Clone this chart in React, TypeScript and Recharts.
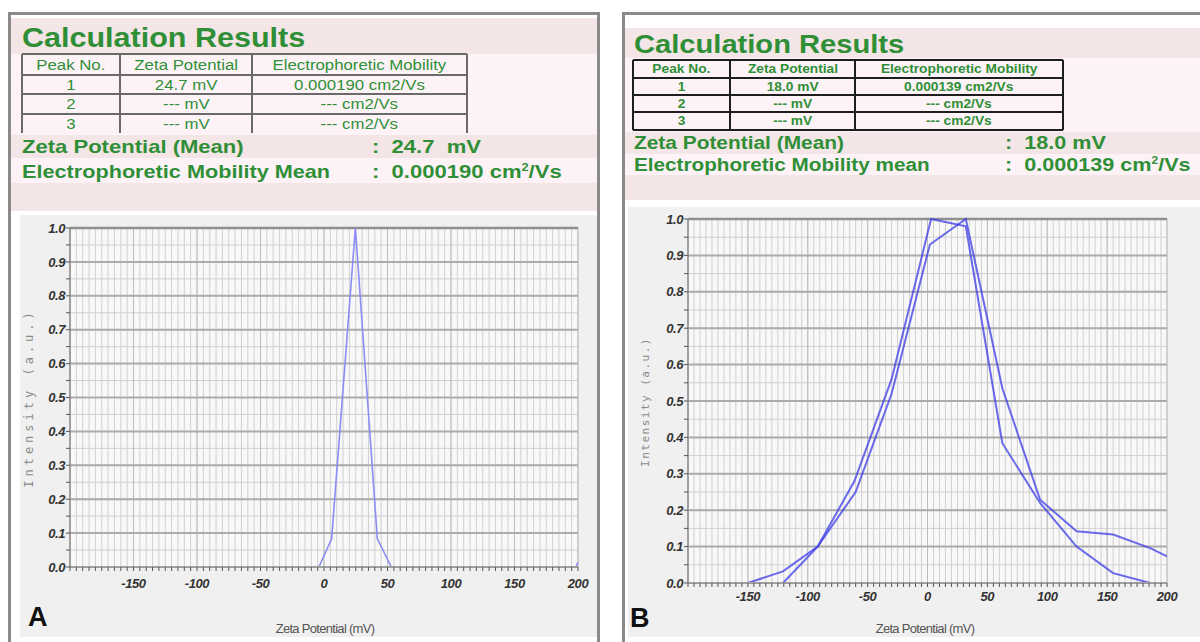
import React from "react";
import {
  LineChart,
  Line,
  XAxis,
  YAxis,
  CartesianGrid,
  ReferenceLine,
} from "recharts";

const tableHeader = ["Peak No.", "Zeta Potential", "Electrophoretic Mobility"];
const peakRowsA = [
  ["1", "24.7 mV", "0.000190 cm2/Vs"],
  ["2", "--- mV", "--- cm2/Vs"],
  ["3", "--- mV", "--- cm2/Vs"],
];
const peakRowsB = [
  ["1", "18.0 mV", "0.000139 cm2/Vs"],
  ["2", "--- mV", "--- cm2/Vs"],
  ["3", "--- mV", "--- cm2/Vs"],
];

// panel A: single narrow peak
const zetaA = [-4, 6, 24.7, 42, 53];
const intensityA = [0, 0.083, 1.0, 0.083, 0];
const blipZetaA = [198.5, 200];
const blipIntensityA = [0, 0.015];

// panel B: two runs
const zetaB1 = [-150, -120.7, -91.7, -60, -30, 2, 32, 62.5, 94, 124.5, 155, 186, 200];
const intensityB1 = [0, 0.032, 0.1, 0.25, 0.52, 0.93, 1.0, 0.535, 0.229, 0.142, 0.133, 0.096, 0.073];
const zetaB2 = [-120.7, -91.7, -61, -30, 3, 32, 62.5, 94, 124.5, 155, 186];
const intensityB2 = [0, 0.1, 0.28, 0.56, 1.0, 0.98, 0.384, 0.22, 0.1, 0.027, 0];

const xLabelTicks = [-150, -100, -50, 0, 50, 100, 150, 200];
const yLabelTicks = [0.1, 0.2, 0.3, 0.4, 0.5, 0.6, 0.7, 0.8, 0.9, 1.0];

// minor grid every 5 mV / 0.05 a.u.
const xMinor = Array.from({ length: 81 }, (_, i) => -200 + i * 5);
const yMinor = Array.from({ length: 21 }, (_, i) => Math.round(i * 5) / 100);

const toPoints = (xs: number[], ys: number[]) => xs.map((x, i) => ({ x, y: ys[i] }));

const GREEN = "#2f8f36";
const PINK = "#f4e5e6";
const LIGHT_PINK = "#fdf3f7";
const sans = "'Liberation Sans', Arial, sans-serif";

// ── pieces ────────────────────────────────────────────────────────────────

function Box({ l, t, w, h, bg }: { l: number; t: number; w: number; h: number; bg: string }) {
  return <div style={{ position: "absolute", left: l, top: t, width: w, height: h, background: bg }} />;
}

// the report fonts are a stretched bold sans, so scale horizontally
function Txt({
  l, t, size, children, sx = 1, color = GREEN,
}: {
  l: number; t: number; size: number; children: React.ReactNode; sx?: number; color?: string;
}) {
  return (
    <div
      style={{
        position: "absolute", left: l, top: t, fontSize: size, lineHeight: 1,
        fontWeight: 700, color, fontFamily: sans, whiteSpace: "nowrap",
        transform: `scaleX(${sx})`, transformOrigin: "left center",
      }}
    >
      {children}
    </div>
  );
}

// table drawn from absolute lines so the row heights stay exact
function PeakTable({
  xs, ys, color, lw, fontSize, sx, weight, rows, bottomLine,
}: {
  xs: number[]; ys: number[]; color: string; lw: number; fontSize: number; sx: number; weight: number;
  rows: string[][]; bottomLine: boolean;
}) {
  const all = [tableHeader, ...rows];
  const left = xs[0], right = xs[xs.length - 1], top = ys[0], bottom = ys[ys.length - 1];
  return (
    <>
      <Box l={left} t={top} w={right - left} h={bottom - top} bg={LIGHT_PINK} />
      {all.map((r, ri) =>
        r.map((c, ci) => (
          <div
            key={ri + "-" + ci}
            style={{
              position: "absolute", left: xs[ci], top: ys[ri], width: xs[ci + 1] - xs[ci], height: ys[ri + 1] - ys[ri],
              display: "flex", alignItems: "center", justifyContent: "center", color: GREEN,
              fontFamily: sans, fontSize, fontWeight: weight, whiteSpace: "nowrap",
            }}
          >
            <span style={{ display: "inline-block", transform: `scaleX(${sx})` }}>{c}</span>
          </div>
        ))
      )}
      {xs.map((x, i) => (
        <div key={"v" + i} style={{ position: "absolute", left: x - lw / 2, top, width: lw, height: bottom - top, background: color }} />
      ))}
      {ys.map((y, i) =>
        i === ys.length - 1 && !bottomLine ? null : (
          <div key={"h" + i} style={{ position: "absolute", left, top: y - lw / 2, width: right - left, height: lw, background: color }} />
        )
      )}
    </>
  );
}

const tickStyle = {
  fill: "#333",
  fontSize: 13,
  fontStyle: "italic",
  fontWeight: 700,
  fontFamily: sans,
  letterSpacing: -0.4,
};

function ZetaChart({
  width, height, margin, series, labelMargin,
}: {
  width: number; height: number;
  margin: { top: number; right: number; bottom: number; left: number };
  series: { data: { x: number; y: number }[]; color: string; w: number; op: number }[];
  labelMargin: number;
}) {
  return (
    <LineChart width={width} height={height} margin={margin}>
      <CartesianGrid stroke="#d0d0d0" fill="#f8f8f8" strokeWidth={1} />
      {xLabelTicks.map((v) => (
        <ReferenceLine key={"vx" + v} x={v} stroke="#bdbdbd" strokeWidth={1} />
      ))}
      {yLabelTicks.map((v) => (
        <ReferenceLine key={"hy" + v} y={v} stroke={v === 1.0 ? "#8f8f8f" : "#ababab"} strokeWidth={v === 1.0 ? 2.5 : 2} />
      ))}
      <XAxis
        type="number"
        dataKey="x"
        domain={[-200, 200]}
        ticks={xMinor}
        interval={0}
        allowDataOverflow
        height={30}
        tickSize={4}
        tickMargin={labelMargin}
        tickLine={{ stroke: "#555" }}
        axisLine={{ stroke: "#a0a0a0", strokeWidth: 2 }}
        tick={tickStyle}
        tickFormatter={(v: number) => (v % 50 === 0 && v !== -200 ? String(v) : "")}
      />
      <YAxis
        type="number"
        dataKey="y"
        domain={[0, 1]}
        ticks={yMinor}
        interval={0}
        width={40}
        tickSize={4}
        tickMargin={1}
        tickLine={{ stroke: "#555" }}
        axisLine={{ stroke: "#8a8a8a", strokeWidth: 1.5 }}
        tick={tickStyle}
        tickFormatter={(v: number) => (Math.round(v * 100) % 10 === 0 ? v.toFixed(1) : "")}
      />
      {series.map((s, i) => (
        <Line
          key={i}
          data={s.data}
          dataKey="y"
          type="linear"
          stroke={s.color}
          strokeWidth={s.w}
          strokeOpacity={s.op}
          dot={false}
          isAnimationActive={false}
        />
      ))}
    </LineChart>
  );
}

function AxisTitles({ yx, yy, ySize, ySpacing, xx, xy, letter, lx, ly }: {
  yx: number; yy: number; ySize: number; ySpacing: number; xx: number; xy: number; letter: string; lx: number; ly: number;
}) {
  return (
    <>
      <div
        style={{
          position: "absolute", left: yx, top: yy, transform: "translate(-50%, -50%) rotate(-90deg)",
          fontFamily: "'DejaVu Sans Mono', monospace", fontSize: ySize, letterSpacing: ySpacing,
          color: "#8a8a8a", whiteSpace: "nowrap", lineHeight: 1,
        }}
      >
        Intensity (a.u.)
      </div>
      <div
        style={{
          position: "absolute", left: xx, top: xy, transform: "translate(-50%, -50%)",
          fontFamily: sans, fontSize: 13, letterSpacing: -0.7, color: "#555", whiteSpace: "nowrap", lineHeight: 1,
        }}
      >
        Zeta Potential (mV)
      </div>
      <div
        style={{
          position: "absolute", left: lx, top: ly, fontFamily: sans, fontWeight: 700,
          fontSize: 27, color: "#111", lineHeight: 1,
        }}
      >
        {letter}
      </div>
    </>
  );
}

export default function App() {
  const border = "#8a8a8a";
  return (
    <div style={{ position: "absolute", left: 0, top: 0, width: 1200, height: 642, overflow: "hidden", background: "#fff" }}>
      {/* ── panel A ── */}
      <div style={{ position: "absolute", left: 8, top: 12, width: 586, height: 640, border: `3px solid ${border}`, borderBottom: "none" }} />
      <Box l={11} t={18} w={586} h={36} bg={PINK} />
      <Box l={11} t={54} w={586} h={81} bg={LIGHT_PINK} />
      <Box l={11} t={135} w={586} h={23} bg={PINK} />
      <Box l={11} t={158} w={586} h={25} bg={LIGHT_PINK} />
      <Box l={11} t={183} w={586} h={28} bg={PINK} />
      <Box l={20} t={215} w={577} h={422} bg="#f0f0f0" />
      <Txt l={22} t={24} size={28} sx={1.09}>Calculation Results</Txt>
      <PeakTable
        xs={[22, 120, 252, 467]} ys={[54, 75, 94, 114, 133]} color="#6a6a6a" lw={1.5}
        fontSize={14} sx={1.2} weight={400} rows={peakRowsA} bottomLine={false}
      />
      <Txt l={22} t={137} size={19} sx={1.16}>Zeta Potential (Mean)</Txt>
      <Txt l={372} t={137} size={19} sx={1.16}>:&nbsp; 24.7&nbsp; mV</Txt>
      <Txt l={22} t={162} size={19} sx={1.14}>Electrophoretic Mobility Mean</Txt>
      <Txt l={372} t={162} size={19} sx={1.16}>:&nbsp; 0.000190 cm<sup style={{ fontSize: 11 }}>2</sup>/Vs</Txt>
      <div style={{ position: "absolute", left: 20, top: 213 }}>
        <ZetaChart
          width={580}
          height={424}
          margin={{ top: 15, right: 22, bottom: 40, left: 10 }}
          labelMargin={8}
          series={[
            { data: toPoints(zetaA, intensityA), color: "#8c8cf6", w: 1.6, op: 1 },
            { data: toPoints(blipZetaA, blipIntensityA), color: "#8c8cf6", w: 1.6, op: 1 },
          ]}
        />
      </div>
      <AxisTitles yx={29} yy={398} ySize={12} ySpacing={4} xx={325} xy={628} letter="A" lx={28} ly={604} />

      {/* ── panel B ── */}
      <div style={{ position: "absolute", left: 622, top: 12, width: 600, height: 640, border: `3px solid ${border}`, borderBottom: "none" }} />
      <Box l={625} t={28} w={575} h={30} bg={PINK} />
      <Box l={625} t={58} w={575} h={74} bg={LIGHT_PINK} />
      <Box l={625} t={132} w={575} h={22} bg={PINK} />
      <Box l={625} t={154} w={575} h={21} bg={LIGHT_PINK} />
      <Box l={625} t={175} w={575} h={25} bg={PINK} />
      <Box l={628} t={207} w={572} h={430} bg="#f0f0f0" />
      <Txt l={634} t={31} size={26} sx={1.12}>Calculation Results</Txt>
      <PeakTable
        xs={[633, 730, 855, 1063]} ys={[60, 78, 95, 112, 130]} color="#1e1e1e" lw={2}
        fontSize={12.5} sx={1.1} weight={700} rows={peakRowsB} bottomLine={true}
      />
      <Txt l={634} t={134} size={18} sx={1.16}>Zeta Potential (Mean)</Txt>
      <Txt l={1005} t={134} size={18} sx={1.2}>:&nbsp; 18.0 mV</Txt>
      <Txt l={634} t={156} size={18} sx={1.15}>Electrophoretic Mobility mean</Txt>
      <Txt l={1005} t={156} size={18} sx={1.2}>:&nbsp; 0.000139 cm<sup style={{ fontSize: 10 }}>2</sup>/Vs</Txt>
      <div style={{ position: "absolute", left: 628, top: 205 }}>
        <ZetaChart
          width={572}
          height={432}
          margin={{ top: 14, right: 33, bottom: 24, left: 20 }}
          labelMargin={5}
          series={[
            { data: toPoints(zetaB1, intensityB1), color: "#3b3bea", w: 2, op: 0.75 },
            { data: toPoints(zetaB2, intensityB2), color: "#3b3bea", w: 2, op: 0.75 },
          ]}
        />
      </div>
      <AxisTitles yx={645} yy={402} ySize={11} ySpacing={1.5} xx={925} xy={628} letter="B" lx={630} ly={605} />
    </div>
  );
}
